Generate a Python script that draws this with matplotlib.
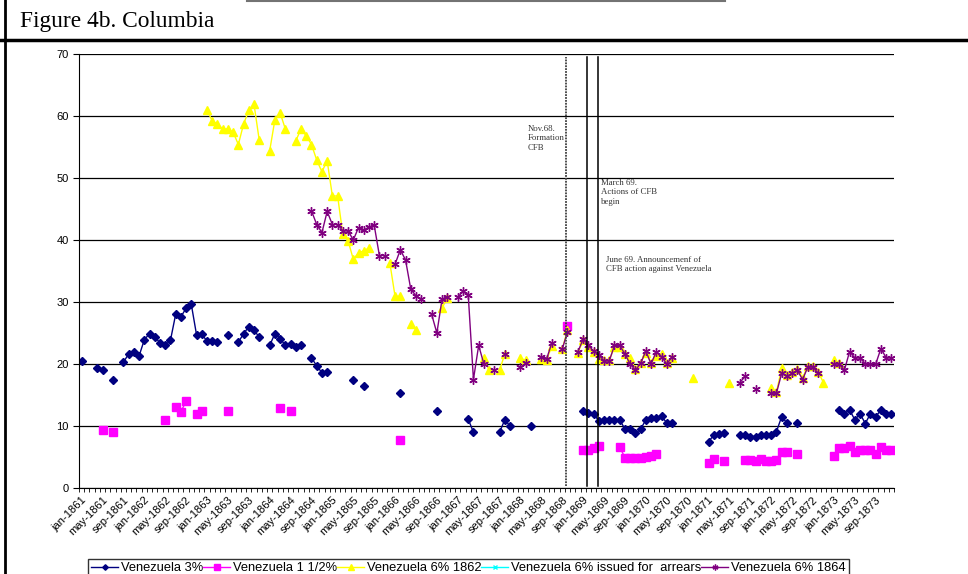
import numpy as np
import matplotlib
matplotlib.use('Agg')
import matplotlib.pyplot as plt
from matplotlib.lines import Line2D

N = np.nan

# monthly categories jan-1861 .. dec-1873
month_names = ['jan', 'feb', 'mar', 'apr', 'may', 'jun',
               'jul', 'aug', 'sep', 'oct', 'nov', 'dec']
years = list(range(1861, 1874))
categories = [f'{m}-{y}' for y in years for m in month_names]

# Venezuela 3%
v3 = [
    20.5, N, N, 19.4, 19.0, N, 17.5, N, 20.3, 21.6, 22.0, 21.3,           # 1861
    23.9, 24.9, 24.4, 23.4, 23.0, 23.8, 28.0, 27.6, 29.0, 29.6, 24.7, 24.8,  # 1862
    23.7, 23.7, 23.5, N, 24.7, N, 23.5, 24.9, 26.0, 25.5, 24.3, N,         # 1863
    23.0, 24.9, 24.1, 23.0, 23.2, 22.7, 23.0, N, 21.0, 19.7, 18.6, 18.7,   # 1864
    N, N, N, N, 17.5, N, 16.5, N, N, N, N, N,                             # 1865
    N, 15.3, N, N, N, N, N, N, 12.5, N, N, N,                             # 1866
    N, N, 11.1, 9.0, N, N, N, N, 9.0, 11.0, 10.0, N,                      # 1867
    N, N, 10.0, N, N, N, N, N, N, N, N, N,                                # 1868
    12.5, 12.1, 12.0, 10.8, 11.0, 11.0, 11.0, 11.0, 9.5, 9.5, 8.8, 9.5,    # 1869
    11.0, 11.3, 11.3, 11.6, 10.5, 10.5, N, N, N, N, N, N,                 # 1870
    7.5, 8.5, 8.7, 8.8, N, N, 8.5, 8.5, 8.3, 8.3, 8.5, 8.5,               # 1871
    8.5, 9.1, 11.5, 10.5, N, 10.5, N, N, N, N, N, N,                      # 1872
    N, 12.6, 12.0, 12.6, 11.0, 12.0, 10.4, 12.0, 11.5, 12.6, 12.0, 12.0,   # 1873
]

# Venezuela 1 1/2%
v15 = [
    N, N, N, N, 9.3, N, 9.0, N, N, N, N, N,                               # 1861
    N, N, N, N, 11.0, N, 13.1, 12.3, 14.0, N, 12.0, 12.4,                 # 1862
    N, N, N, N, 12.5, N, N, N, N, N, N, N,                                # 1863
    N, N, 12.9, N, 12.5, N, N, N, N, N, N, N,                             # 1864
    N, N, N, N, N, N, N, N, N, N, N, N,                                   # 1865
    N, 7.7, N, N, N, N, N, N, N, N, N, N,                                 # 1866
    N, N, N, N, N, N, N, N, N, N, N, N,                                   # 1867
    N, N, N, N, N, N, N, N, N, 26.1, N, N,                                # 1868
    6.2, 6.1, 6.4, 6.8, N, N, N, 6.6, 4.9, 4.8, 4.8, 4.8,                 # 1869
    5.0, 5.2, 5.5, N, N, N, N, N, N, N, N, N,                             # 1870
    4.0, 4.6, N, 4.4, N, N, N, 4.5, 4.5, 4.3, 4.6, 4.4,                   # 1871
    4.4, 4.5, 5.8, 5.8, N, 5.5, N, N, N, N, N, N,                         # 1872
    5.1, 6.5, 6.4, 6.8, 5.8, 6.1, 6.1, 6.1, 5.5, 6.6, 6.1, 6.1,           # 1873
]

# Venezuela 6% 1862
v6_1862 = [
    N, N, N, N, N, N, N, N, N, N, N, N,                                   # 1861
    N, N, N, N, N, N, N, N, N, N, N, N,                                   # 1862
    61.0, 59.2, 58.7, 57.9, 57.9, 57.4, 55.4, 58.7, 60.9, 61.9, 56.1, N,   # 1863
    54.4, 59.4, 60.5, 57.9, N, 56.0, 57.9, 56.8, 55.4, 52.9, 51.0, 52.8,   # 1864
    47.1, 47.1, 40.9, 39.9, 36.9, 37.9, 38.3, 38.7, N, N, N, 36.3,         # 1865
    30.9, 30.9, N, 26.5, 25.5, N, N, N, N, 29.0, 30.7, N,                 # 1866
    N, N, N, N, N, 20.9, 19.0, N, 19.0, 21.6, N, N,                       # 1867
    20.9, 20.6, N, N, 20.8, 20.6, 22.9, N, 22.4, 25.5, N, 21.8,           # 1868
    23.8, 22.8, 21.9, 20.8, 20.6, 20.6, 22.8, 22.8, 21.6, 21.0, 19.2, 20.2,  # 1869
    21.8, 20.2, 21.3, 21.6, 20.2, 21.0, N, N, N, 17.7, N, N,              # 1870
    N, N, N, N, 17.0, N, N, N, N, N, N, N,                                # 1871
    16.1, 15.5, 19.3, 18.2, 18.7, 19.2, 17.7, 19.7, 19.7, 18.7, 17.0, N,   # 1872
    20.6, 20.2, N, N, N, N, N, N, N, N, N, N,                             # 1873
]

# Venezuela 6% issued for arrears (no visible points)
v6_arrears = [N] * 156

# Venezuela 6% 1864
v6_1864 = [
    N, N, N, N, N, N, N, N, N, N, N, N,                                   # 1861
    N, N, N, N, N, N, N, N, N, N, N, N,                                   # 1862
    N, N, N, N, N, N, N, N, N, N, N, N,                                   # 1863
    N, N, N, N, N, N, N, N, 44.7, 42.5, 41.2, 44.6,                       # 1864
    42.5, 42.5, 41.5, 41.5, 40.0, 42.0, 41.6, 42.1, 42.4, 37.5, 37.5, N,   # 1865
    36.1, 38.4, 36.8, 32.1, 31.0, 30.5, N, 28.0, 25.0, 30.5, 30.8, N,     # 1866
    30.8, 31.7, 31.2, 17.5, 23.0, 20.0, N, 19.0, N, 21.6, N, N,           # 1867
    19.5, 20.1, N, N, 21.2, 20.8, 23.4, N, 22.4, 25.2, N, 22.0,           # 1868
    24.0, 23.0, 22.1, 21.5, 20.5, 20.5, 23.0, 23.0, 21.6, 20.0, 19.0, 20.1,  # 1869
    22.1, 20.0, 22.0, 21.2, 20.0, 21.1, N, N, N, N, N, N,                 # 1870
    N, N, N, N, N, N, 17.0, 18.0, N, 16.0, N, N,                          # 1871
    15.3, 15.3, 18.5, 18.0, 18.5, 19.0, 17.5, 19.5, 19.5, 18.5, N, N,     # 1872
    20.0, 20.0, 19.0, 22.0, 21.0, 21.0, 20.0, 20.0, 20.0, 22.5, 21.0, 21.0,  # 1873
]

# event lines (month-index position) and their notes
event_x = [92.8, 96.8, 98.8]
notes = [
    (85.3, 58.5, 'Nov.68.\nFormation\nCFB'),
    (99.5, 49.8, 'March 69.\nActions of CFB\nbegin'),
    (100.4, 37.5, 'June 69. Announcemenf of\nCFB action against Venezuela'),
]

sans = ['Liberation Sans', 'DejaVu Sans']
serif = ['Liberation Serif', 'DejaVu Serif']

fig = plt.figure(figsize=(9.68, 5.74), dpi=100)
ax = fig.add_axes([79 / 968, 1 - 488 / 574, (894 - 79) / 968, (488 - 54) / 574])

x = np.arange(len(categories))
ax.plot(x, v3, color='#000080', marker='D', markersize=4, lw=1,
        label='Venezuela 3%')
ax.plot(x, v15, color='#FF00FF', marker='s', markersize=6, lw=1,
        label='Venezuela 1 1/2%')
ax.plot(x, v6_1862, color='#FFFF00', marker='^', markersize=5.5, lw=1,
        label='Venezuela 6% 1862')
ax.plot(x, v6_arrears, color='#00FFFF', marker='x', markersize=5, lw=1,
        label='Venezuela 6% issued for  arrears')
ax.plot(x, v6_1864, color='#800080', marker=(6, 2, 0), markersize=6,
        mew=1.0, lw=1, label='Venezuela 6% 1864')

# event lines
ax.plot([event_x[0]] * 2, [0.3, 69.5], color='0.25', lw=1.3, ls=(0, (1, 0.6)))
ax.plot([event_x[1]] * 2, [0.3, 69.5], color='black', lw=1.1)
ax.plot([event_x[2]] * 2, [0.3, 69.5], color='black', lw=1.1)
for nx, ny, txt in notes:
    ax.text(nx, ny, txt, fontsize=6.3, family=serif, va='top', ha='left',
            linespacing=1.2, color='#333333')

ax.set_xlim(-0.5, len(categories) - 0.5)
ax.set_ylim(0, 70)
ax.set_yticks(range(0, 71, 10))
ax.grid(axis='y', color='black', lw=0.9)
ax.set_axisbelow(True)

ax.set_xticks(x[::4])
ax.set_xticklabels(categories[::4], rotation=45, ha='right',
                   rotation_mode='anchor', fontsize=8, family=sans)
ax.set_xticks(np.arange(-0.5, len(categories), 1), minor=True)
ax.tick_params(axis='x', which='major', length=0, pad=5)
ax.tick_params(axis='x', which='minor', length=3, width=0.6, direction='out')
ax.tick_params(axis='y', length=4, width=0.8, labelsize=8)
for lab in ax.get_yticklabels():
    lab.set_family(sans)

ax.spines['top'].set_visible(False)
ax.spines['right'].set_visible(False)
ax.spines['left'].set_color('black')
ax.spines['bottom'].set_color('black')

leg = fig.legend(loc='upper left', bbox_to_anchor=(88 / 968, 1 - 559 / 574),
                 ncol=5, prop={'family': sans, 'size': 9.3},
                 handlelength=2.1, handletextpad=0.2, columnspacing=0.0,
                 borderpad=0.25, borderaxespad=0, frameon=True,
                 fancybox=False, edgecolor='black', markerscale=0.7)
leg.get_frame().set_linewidth(1.0)

# page decorations
fig.add_artist(Line2D([5 / 968, 5 / 968], [0, 1], color='black', lw=2))
fig.add_artist(Line2D([0, 1], [1 - 39.5 / 574] * 2, color='black', lw=2.5))
fig.add_artist(Line2D([247 / 968, 725 / 968], [1 - 1 / 574] * 2,
                      color='0.45', lw=1.5))
fig.text(20 / 968, 1 - 22 / 574, 'Figure 4b. Columbia', fontsize=16.8,
         family=serif, va='center', ha='left')

fig.savefig('out.png', dpi=100)
